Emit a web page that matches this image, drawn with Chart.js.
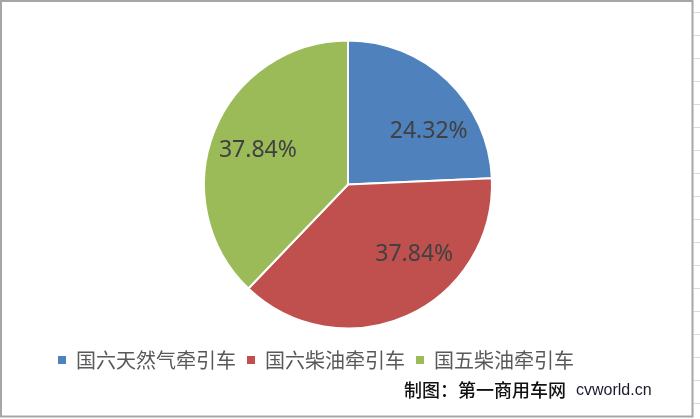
<!DOCTYPE html>
<html>
<head>
<meta charset="utf-8">
<script src="https://cdn.jsdelivr.net/npm/chart.js@4/dist/chart.umd.min.js"></script>
<style>
  html, body { margin: 0; padding: 0; background: #fff; }
  #wrap { position: relative; width: 700px; height: 419px; }
</style>
</head>
<body>
<div id="wrap"><canvas id="pie" width="700" height="419"></canvas></div>
<script>
// ── Datos del gráfico ─────────────────────────────────────────
var categorias = ['国六天然气牵引车', '国六柴油牵引车', '国五柴油牵引车'];
var porcentajes = [24.32, 37.84, 37.84];
var colores     = ['#4F81BD', '#C0504D', '#9BBB59'];

var FUENTE = '"Noto Sans CJK SC", "Noto Sans", sans-serif';

// Etiquetas de porcentaje dentro de cada porción
var etiquetasPct = {
    id: 'etiquetasPct',
    afterDatasetsDraw: function(chart, args, opts) {
        var ctx = chart.ctx;
        var meta = chart.getDatasetMeta(0);
        var total = porcentajes.reduce(function(a, b) { return a + b; }, 0);
        ctx.save();
        ctx.font = opts.size + 'px "Noto Sans", sans-serif';
        ctx.fillStyle = opts.color;
        ctx.textAlign = 'center';
        ctx.textBaseline = 'middle';
        meta.data.forEach(function(arc, i) {
            var p = arc.getProps(['x', 'y', 'startAngle', 'endAngle', 'outerRadius'], true);
            var ang = (p.startAngle + p.endAngle) / 2 + (opts.nudge[i] || 0) * Math.PI / 180;
            var r = p.outerRadius * opts.radial;
            var txt = (porcentajes[i] / total * 100).toFixed(2) + '%';
            ctx.fillText(txt, p.x + Math.cos(ang) * r, p.y + Math.sin(ang) * r);
        });
        ctx.restore();
    }
};

// Marco tipo hoja de cálculo + marca de agua
var decoracion = {
    id: 'decoracion',
    beforeDraw: function(chart) {
        var ctx = chart.ctx;
        ctx.save();
        ctx.fillStyle = '#fff';
        ctx.fillRect(0, 0, chart.width, chart.height);
        // rayitas de la cuadrícula fuera del marco
        ctx.strokeStyle = '#d9d9d9';
        ctx.lineWidth = 1;
        for (var y = 12; y < 419; y += 23) {
            ctx.beginPath();
            ctx.moveTo(694, y + 0.5);
            ctx.lineTo(700, y + 0.5);
            ctx.stroke();
        }
        // marco
        ctx.strokeStyle = '#a6a6a6';
        ctx.lineWidth = 2;
        ctx.strokeRect(1, 1, 691.5, 415.5);
        ctx.restore();
    },
    afterDraw: function(chart) {
        var ctx = chart.ctx;
        ctx.save();
        ctx.fillStyle = '#111';
        ctx.textBaseline = 'middle';
        ctx.font = '500 18px ' + FUENTE;
        ctx.fillText('制图：第一商用车网', 404, 390);
        ctx.font = '16px "Liberation Sans", sans-serif';
        ctx.fillStyle = '#1a1a2e';
        ctx.fillText('cvworld.cn', 576, 391);
        ctx.restore();
    }
};

new Chart(document.getElementById('pie'), {
    type: 'pie',
    data: {
        labels: categorias,
        datasets: [{
            data: porcentajes,
            backgroundColor: colores,
            borderColor: '#fff',
            borderWidth: 2
        }]
    },
    options: {
        responsive: false,
        animation: false,
        devicePixelRatio: 1,
        radius: 144,
        layout: { padding: { left: 47, right: 51, top: 30, bottom: 39 } },
        plugins: {
            tooltip: { enabled: false },
            legend: {
                position: 'bottom',
                align: 'start',
                labels: {
                    boxWidth: 8,
                    boxHeight: 8,
                    padding: 11,
                    color: '#595959',
                    font: { size: 20, family: FUENTE },
                    generateLabels: function(chart) {
                        var items = Chart.controllers.pie.overrides.plugins.legend.labels.generateLabels(chart);
                        items.forEach(function(it) { it.lineWidth = 0; it.strokeStyle = it.fillStyle; });
                        return items;
                    }
                }
            },
            etiquetasPct: { size: 23, color: '#404040', radial: 0.67, nudge: [13, -19, -1] }
        }
    },
    plugins: [etiquetasPct, decoracion]
});
</script>
</body>
</html>
